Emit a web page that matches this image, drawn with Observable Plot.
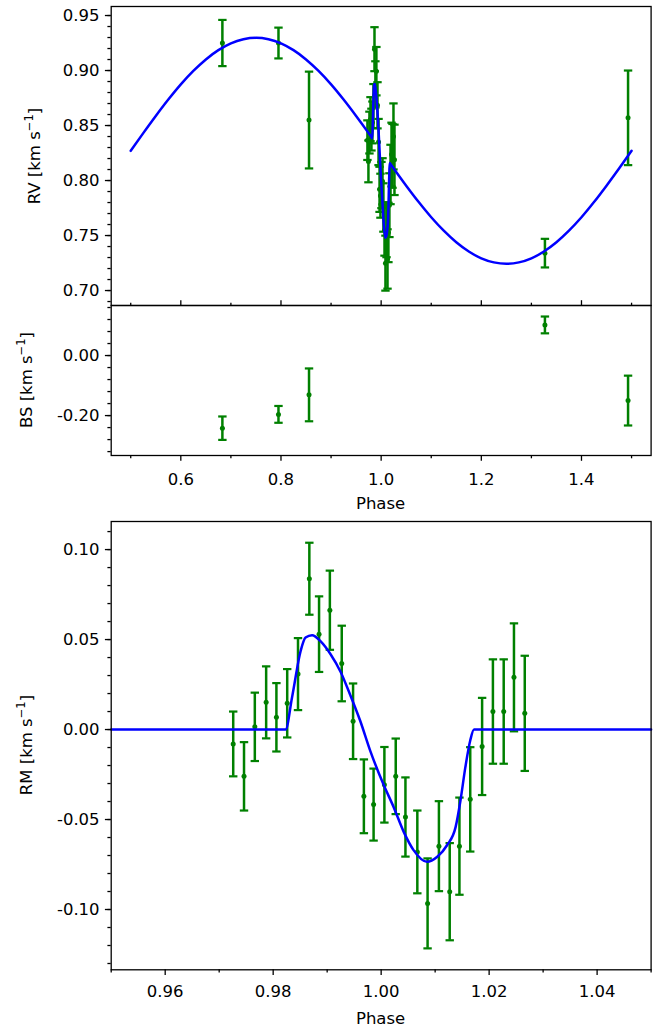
<!DOCTYPE html>
<html><head><meta charset="utf-8">
<script src="https://cdn.jsdelivr.net/npm/d3@7"></script>
<script src="https://cdn.jsdelivr.net/npm/@observablehq/plot@0.6"></script>
<style>
body{margin:0;background:#fff;}
#wrap{position:relative;width:656px;height:1027px;font-family:"DejaVu Sans";color:#000;}
.p{position:absolute;left:0;}
.lab{position:absolute;font-size:16.5px;white-space:nowrap;line-height:1;}
.ylab{transform:translate(-50%,-50%) rotate(-90deg);}
.xlab{transform:translate(-50%,-50%);}
sup{font-size:70%;vertical-align:0.55em;line-height:0;}
</style></head><body><div id="wrap"></div>
<script>
// ---- Out-of-transit observations (RV + bisector span) ----
const ootPhase = [0.683, 0.795, 0.856, 1.327, 1.493];
const ootRV    = [0.925, 0.925, 0.855, 0.734, 0.857];
const ootRVErr = [0.021, 0.014, 0.044, 0.013, 0.043];
const bsVal    = [-0.242, -0.196, -0.131, 0.102, -0.150];
const bsErr    = [0.039, 0.028, 0.088, 0.028, 0.083];

// ---- In-transit observations ----
const rmPhase = [0.9726,0.9746,0.9766,0.9787,0.9806,0.9826,0.9846,0.9867,0.9885,0.9905,0.9927,0.9948,0.9968,0.9986,1.0006,1.0027,1.0045,1.0067,1.0086,1.0107,1.0127,1.0145,1.0165,1.0187,1.0207,1.0227,1.0246,1.0266];
const rmVal   = [-0.008,-0.026,0.0015,0.0151,0.0068,0.0146,0.0308,0.0838,0.053,0.0663,0.0367,0.0046,-0.0371,-0.0417,-0.0307,-0.026,-0.0486,-0.068,-0.0966,-0.0648,-0.0901,-0.0648,-0.0388,-0.0094,0.010,0.010,0.029,0.009];
const rmErr   = [0.018,0.019,0.019,0.020,0.019,0.019,0.020,0.020,0.021,0.022,0.021,0.021,0.0205,0.020,0.021,0.021,0.022,0.023,0.025,0.025,0.027,0.027,0.029,0.027,0.029,0.029,0.030,0.032];
const rvTransit = [0.8367,0.8174,0.8436,0.8558,0.8463,0.8528,0.8677,0.9194,0.8874,0.8994,0.8684,0.835,0.792,0.7862,0.7959,0.7993,0.7755,0.7547,0.7249,0.7553,0.7287,0.7528,0.7776,0.8055,0.8236,0.8224,0.8401,0.8188];

// ---- Model curves ----
const rvModelPhase = [0.5,0.525,0.55,0.575,0.6,0.625,0.65,0.675,0.7,0.725,0.75,0.775,0.8,0.825,0.85,0.875,0.9,0.925,0.95,0.975,
  0.98,0.9823,0.9835,0.9851,0.986,0.9872,0.9888,0.9906,0.9925,0.9943,0.9961,0.998,1.0005,1.0023,1.0042,1.006,1.0085,1.0104,1.0122,1.0138,1.0147,1.0156,1.0165,1.0172,1.02,
  1.025,1.05,1.075,1.1,1.125,1.15,1.175,1.2,1.225,1.25,1.275,1.3,1.325,1.35,1.375,1.4,1.425,1.45,1.475,1.5];
const rvModel = [0.8270,0.8431,0.8587,0.8736,0.8874,0.8996,0.9101,0.9185,0.9247,0.9284,0.9297,0.9284,0.9247,0.9185,0.9101,0.8996,0.8874,0.8736,0.8587,0.8431,
  0.8399,0.8384,0.8556,0.8804,0.8871,0.8877,0.8832,0.8751,0.8638,0.8497,0.8345,0.8163,0.7957,0.7825,0.7673,0.7561,0.748,0.7496,0.7548,0.764,0.7782,0.796,0.8103,0.8159,0.8141,
  0.8109,0.7953,0.7804,0.7666,0.7544,0.7439,0.7355,0.7293,0.7256,0.7243,0.7256,0.7293,0.7355,0.7439,0.7544,0.7666,0.7804,0.7953,0.8109,0.8270];
const rmModelPhase = [0.95,0.9823,0.9835,0.9851,0.986,0.9872,0.9888,0.9906,0.9925,0.9943,0.9961,0.998,1.0005,1.0023,1.0042,1.006,1.0085,1.0104,1.0122,1.0138,1.0147,1.0156,1.0165,1.0172,1.05];
const rmModel = [0,0,0.018,0.0438,0.0511,0.0524,0.049,0.042,0.032,0.019,0.005,-0.012,-0.031,-0.043,-0.057,-0.067,-0.0735,-0.0707,-0.0643,-0.0541,-0.0393,-0.0209,-0.0061,0,0];

// ---- Ticks ----
const phaseTicks = [0.6, 0.8, 1.0, 1.2, 1.4];
const phaseMinor = [0.5, 0.7, 0.9, 1.1, 1.3, 1.5];
const rmPhaseTicks = [0.96, 0.98, 1.00, 1.02, 1.04];
const rmPhaseMinor = [0.95, 0.97, 0.99, 1.01, 1.03, 1.05];
const rvTicks = [0.70, 0.75, 0.80, 0.85, 0.90, 0.95];
const bsTicks = [-0.20, 0.00];
const rmTicks = [-0.10, -0.05, 0.00, 0.05, 0.10];
const rvMinor = d3.range(69, 96).map(i => i / 100);
const bsMinor = d3.range(-8, 5).map(i => i * 0.04);
const rmMinor = d3.range(-13, 12).map(i => i / 100);

// ---- Build tables ----
const oot = ootPhase.map((p, i) => ({x: p, y: ootRV[i], e: ootRVErr[i]}));
const rvIn = rmPhase.map((p, i) => ({x: p, y: rvTransit[i], e: rmErr[i]}));
const rvData = oot.concat(rvIn);
const bsData = ootPhase.map((p, i) => ({x: p, y: bsVal[i], e: bsErr[i]}));
const rmData = rmPhase.map((p, i) => ({x: p, y: rmVal[i], e: rmErr[i]}));
const rvLine = rvModelPhase.map((p, i) => ({x: p, y: rvModel[i]}));
const rmLine = rmModelPhase.map((p, i) => ({x: p, y: rmModel[i]}));

const GREEN = "#008000", BLUE = "#0000ff";
const ML = 110.7, MR = 5.4, W = 656;
const TMAJ = 5.8, TMIN = 3.3, PAD = 5.8, XPAD = 12, LW = 1.3;
const capSym = {draw(ctx, size) { const w = Math.sqrt(size / Math.PI); ctx.moveTo(-w, 0); ctx.lineTo(w, 0); }};

function errMarks(data) {
  return [
    Plot.ruleX(data, {x: "x", y1: d => d.y - d.e, y2: d => d.y + d.e, stroke: GREEN, strokeWidth: 2.5}),
    Plot.dot(data, {x: "x", y: d => d.y + d.e, symbol: capSym, r: 4.2, stroke: GREEN, strokeWidth: 2.2, fill: "none"}),
    Plot.dot(data, {x: "x", y: d => d.y - d.e, symbol: capSym, r: 4.2, stroke: GREEN, strokeWidth: 2.2, fill: "none"}),
    Plot.dot(data, {x: "x", y: "y", r: 2.5, fill: GREEN, stroke: "none"})
  ];
}
function yAxes(major, minor, fmt) {
  return [
    Plot.axisY(minor, {anchor: "left", tickSize: TMIN, fill: "none", strokeWidth: LW, label: null}),
    Plot.axisY(major, {anchor: "left", tickSize: TMAJ, tickPadding: PAD, tickFormat: fmt, strokeWidth: LW, label: null})
  ];
}
const style = {fontFamily: "DejaVu Sans", fontSize: "16.5px", background: "transparent", overflow: "visible", color: "#000"};
const f2 = d => d.toFixed(2), f1 = d => d.toFixed(1);

// Panel 1: RV
const p1 = Plot.plot({
  width: W, height: 310, marginLeft: ML, marginRight: MR, marginTop: 6, marginBottom: 5, style,
  x: {domain: [0.461, 1.539], axis: null},
  y: {domain: [0.6864, 0.9582]},
  marks: [
    ...errMarks(rvData),
    Plot.line(rvLine, {x: "x", y: "y", stroke: BLUE, strokeWidth: 2.5, curve: "monotone-x"}),
    ...yAxes(rvTicks, rvMinor, f2),
    Plot.frame({stroke: "#000", strokeWidth: LW})
  ]
});
// Panel 2: BS
const p2 = Plot.plot({
  width: W, height: 200, marginLeft: ML, marginRight: MR, marginTop: 5, marginBottom: 45, style,
  x: {domain: [0.461, 1.539]},
  y: {domain: [-0.333, 0.1667]},
  marks: [
    ...errMarks(bsData),
    ...yAxes(bsTicks, bsMinor, f2),
    Plot.axisX(phaseMinor, {anchor: "top", tickSize: TMIN, fill: "none", strokeWidth: LW, label: null}),
    Plot.axisX(phaseTicks, {anchor: "top", tickSize: TMAJ, fill: "none", strokeWidth: LW, label: null}),
    Plot.axisX(phaseMinor, {anchor: "bottom", tickSize: TMIN, fill: "none", strokeWidth: LW, label: null}),
    Plot.axisX(phaseTicks, {anchor: "bottom", tickSize: TMAJ, tickPadding: XPAD, tickFormat: f1, strokeWidth: LW, label: null}),
    Plot.frame({stroke: "#000", strokeWidth: LW})
  ]
});
// Panel 3: RM
const p3 = Plot.plot({
  width: W, height: 504.3, marginLeft: ML, marginRight: MR, marginTop: 6, marginBottom: 50, style,
  x: {domain: [0.95, 1.05]},
  y: {domain: [-0.1335, 0.1156]},
  marks: [
    ...errMarks(rmData),
    Plot.line(rmLine, {x: "x", y: "y", stroke: BLUE, strokeWidth: 2.5, curve: "monotone-x"}),
    ...yAxes(rmTicks, rmMinor, f2),
    Plot.axisX(rmPhaseMinor, {anchor: "bottom", tickSize: TMIN, fill: "none", strokeWidth: LW, label: null}),
    Plot.axisX(rmPhaseTicks, {anchor: "bottom", tickSize: TMAJ, tickPadding: XPAD - 2, tickFormat: f2, strokeWidth: LW, label: null}),
    Plot.frame({stroke: "#000", strokeWidth: LW})
  ]
});

const wrap = document.getElementById("wrap");
function place(el, top) { el.classList.add("p"); el.style.top = top + "px"; wrap.appendChild(el); }
place(p1, 0); place(p2, 300); place(p3, 515);

function label(html, x, y, cls) {
  const d = document.createElement("div");
  d.className = "lab " + cls; d.innerHTML = html;
  d.style.left = x + "px"; d.style.top = y + "px";
  wrap.appendChild(d);
}
label("RV [km s<sup>−1</sup>]", 35, 155.5, "ylab");
label("BS [km s<sup>−1</sup>]", 27, 380, "ylab");
label("RM [km s<sup>−1</sup>]", 27, 745, "ylab");
label("Phase", 380.6, 504, "xlab");
label("Phase", 380.6, 1019, "xlab");
</script></body></html>
